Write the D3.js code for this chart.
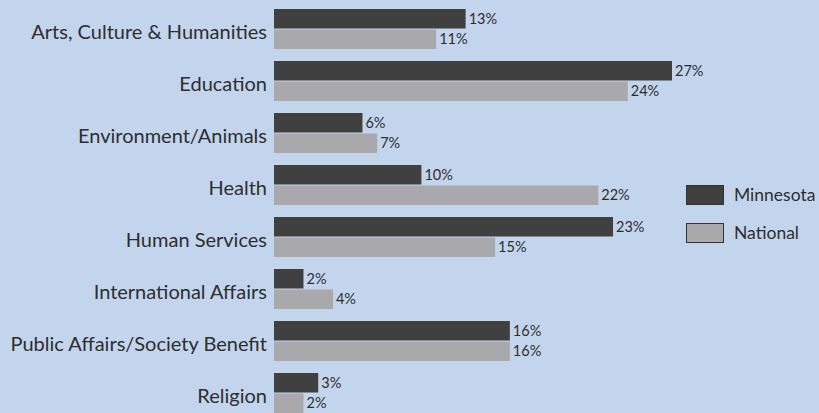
<!DOCTYPE html>
<html>
<head>
<meta charset="utf-8">
<script src="https://cdn.jsdelivr.net/npm/d3@7/dist/d3.min.js"></script>
<style>
  html, body { margin: 0; padding: 0; background: #c3d5ed; }
  svg { display: block; }
  text { font-family: Lato, "DejaVu Sans", sans-serif; fill: #2e2e30; }
</style>
</head>
<body>
<svg id="chart" width="819" height="413"></svg>
<script>
// Share of giving by cause area, Minnesota vs. national
const categories = [
  "Arts, Culture & Humanities",
  "Education",
  "Environment/Animals",
  "Health",
  "Human Services",
  "International Affairs",
  "Public Affairs/Society Benefit",
  "Religion"
];
const seriesNames = ["Minnesota", "National"];
const minnesota = [13, 27, 6, 10, 23, 2, 16, 3];
const national  = [11, 24, 7, 22, 15, 4, 16, 2];
const seriesColors = ["#404040", "#a9a9ab"];

const svg = d3.select("#chart");
const values = [minnesota, national];

const x = d3.scaleLinear().domain([0, 27]).range([274, 672]);

const y = d3.scaleBand()
  .domain(categories)
  .range([3, 419])
  .paddingInner(12 / 52)
  .paddingOuter(6 / 52);

const ySub = d3.scaleBand()
  .domain(seriesNames)
  .range([0, y.bandwidth()])
  .paddingInner(0.05);

const rows = categories.map((c, i) => ({
  category: c,
  bars: seriesNames.map((s, j) => ({ series: s, value: values[j][i], color: seriesColors[j] }))
}));

const group = svg.selectAll("g.row")
  .data(rows)
  .join("g")
  .attr("class", "row")
  .attr("transform", d => `translate(0,${y(d.category)})`);

group.selectAll("rect")
  .data(d => d.bars)
  .join("rect")
  .attr("x", x(0))
  .attr("y", d => ySub(d.series))
  .attr("width", d => x(d.value) - x(0))
  .attr("height", ySub.bandwidth())
  .attr("fill", d => d.color);

group.selectAll("text.val")
  .data(d => d.bars)
  .join("text")
  .attr("class", "val")
  .attr("x", d => x(d.value) + 3)
  .attr("y", d => ySub(d.series) + ySub.bandwidth() / 2 + 1.5)
  .attr("dominant-baseline", "middle")
  .style("font-size", "14.5px")
  .text(d => d.value + "%");

// Category axis on the left, labels only
const yAxis = d3.axisLeft(y).tickSize(0).tickPadding(7);
const axisG = svg.append("g")
  .attr("transform", `translate(${x(0)},0)`)
  .call(yAxis);
axisG.select(".domain").remove();
axisG.selectAll("text")
  .attr("dy", "0.38em")
  .attr("y", 2)
  .style("font-size", "20px")
  .style("font-family", "Lato, 'DejaVu Sans', sans-serif")
  .attr("fill", "#2e2e30");

// Legend
const legend = svg.append("g").attr("transform", "translate(686,185)");
const item = legend.selectAll("g")
  .data(seriesNames)
  .join("g")
  .attr("transform", (d, i) => `translate(0,${i * 38})`);
item.append("rect")
  .attr("x", 0.5).attr("y", 0.5)
  .attr("width", 37).attr("height", 19)
  .attr("fill", (d, i) => seriesColors[i])
  .attr("stroke", "#333")
  .attr("stroke-width", 1);
item.append("text")
  .attr("x", 48)
  .attr("y", 12)
  .attr("dominant-baseline", "middle")
  .style("font-size", "17.5px")
  .text(d => d);
</script>
</body>
</html>
